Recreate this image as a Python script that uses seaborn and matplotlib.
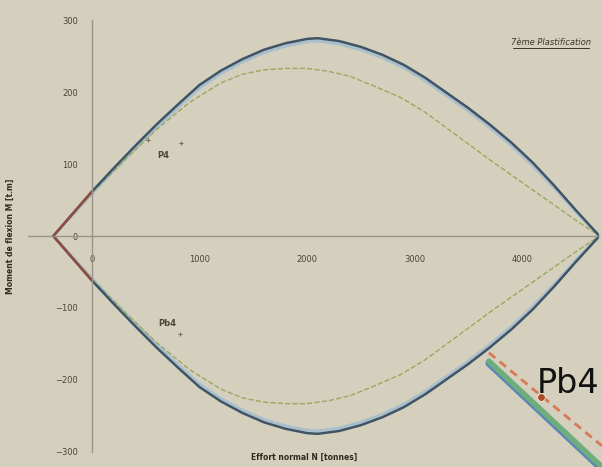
import numpy as np
import pandas as pd
import seaborn as sns
import matplotlib.pyplot as plt

# interaction diagram, upper half (lower half is mirrored)
n_outer = [-360, 0, 200, 400, 600, 800, 1000, 1200, 1400, 1600, 1800, 2000, 2100, 2300,
           2500, 2700, 2900, 3100, 3300, 3500, 3700, 3900, 4100, 4300, 4500, 4720]
m_outer = [0, 62, 94, 125, 155, 183, 210, 230, 246, 259, 268, 274, 275, 271,
           263, 252, 238, 220, 199, 178, 155, 130, 102, 70, 36, 0]

n_inner = [-360, 0, 300, 600, 900, 1200, 1400, 1600, 1800, 2000, 2200, 2400, 2600, 2865,
           3100, 3300, 3500, 3700, 3900, 4100, 4300, 4500, 4720]
m_inner = [0, 60, 105, 148, 185, 213, 225, 231, 233, 233, 229, 222, 210, 193,
           172, 150, 128, 106, 85, 64, 43, 22, 0]

n_blue = n_outer
m_blue = [0, 59, 91, 121, 151, 179, 206, 226, 242, 255, 264, 270, 271, 267,
          259, 248, 234, 216, 195, 174, 151, 126, 98, 67, 34, 0]

n_red = [-360, 0]
m_red = [0, 62]

p4_n = [521, 828]
p4_m = [133, 130]
pb4_n = [493, 819]
pb4_m = [-135, -136]

xticks = [0, 1000, 2000, 3000, 4000]
yticks = [-300, -200, -100, 0, 100, 200, 300]

bg = "#d5cfbd"
sns.set_theme(style="white", rc={"figure.facecolor": bg, "axes.facecolor": bg})
plt.rcParams["font.family"] = ["DejaVu Sans"]


def both_halves(n, m, name):
    up = pd.DataFrame({"N": n, "M": m, "part": name + "_up"})
    down = pd.DataFrame({"N": n, "M": [-v for v in m], "part": name + "_down"})
    return up, down


fig = plt.figure(figsize=(6.02, 4.67), dpi=100)
ax = fig.add_axes([0.0457, 0.0171, 0.950, 0.955])

for n, m, name, color, lw, ls in [
    (n_blue, m_blue, "blue", "#a9bfcc", 2.2, "-"),
    (n_inner, m_inner, "inner", "#9aa860", 1.0, "--"),
    (n_outer, m_outer, "outer", "#3f5566", 1.8, "-"),
    (n_red, m_red, "red", "#9a4a38", 1.6, "-"),
]:
    for half in both_halves(n, m, name):
        sns.lineplot(data=half, x="N", y="M", sort=False, color=color, lw=lw,
                     linestyle=ls, ax=ax, legend=False)

sns.scatterplot(x=p4_n, y=p4_m, marker="+", color="#777060", s=12, linewidth=0.8, ax=ax)
sns.scatterplot(x=pb4_n, y=pb4_m, marker="+", color="#777060", s=12, linewidth=0.8, ax=ax)
ax.text(610, 108, "P4", fontsize=6, color="#4a4538", fontweight="bold")
ax.text(620, -125, "Pb4", fontsize=6, color="#4a4538", fontweight="bold")

ax.set_xlim(-600, 4720)
ax.set_ylim(-310, 310)
ax.set_xticks(xticks)
ax.set_yticks(yticks)
for s in ["top", "right"]:
    ax.spines[s].set_visible(False)
ax.spines["left"].set_position(("data", 0))
ax.spines["left"].set_bounds(-300, 300)
ax.spines["bottom"].set_position(("data", 0))
for s in ["left", "bottom"]:
    ax.spines[s].set_color("#9a958a")
    ax.spines[s].set_linewidth(1.0)
ax.tick_params(axis="y", labelsize=6, labelcolor="#4a4538", length=2, color="#9a958a", pad=8)
ax.tick_params(axis="x", labelsize=6, labelcolor="#4a4538", length=2, color="#9a958a",
               direction="in", pad=14)
ax.set_xlabel("")
ax.set_ylabel("")

fig.text(0.505, 0.01, "Effort normal N [tonnes]", fontsize=5.5, fontweight="bold",
         color="#2f2b22", ha="center", va="bottom")
fig.text(0.017, 0.495, "Moment de flexion M [t.m]", fontsize=5.5, fontweight="bold",
         color="#2f2b22", ha="center", va="center", rotation=90)
fig.text(0.915, 0.900, "7ème Plastification", fontsize=6, fontstyle="italic",
         color="#3a362c", ha="center", va="bottom")
fig.add_artist(plt.Line2D([0.852, 0.978], [0.897, 0.897], color="#3a362c", lw=0.7))

# cropped zoom fragment in the corner
inset_n = [0, 100]
inset_green = [100, 0]
inset_red = [108, 20]
dot_n = [46]
dot_m = [66]
ins = fig.add_axes([0.797, 0.0, 0.203, 0.272])
ins.set_facecolor(bg)
sns.lineplot(x=inset_n, y=[v - 2 for v in inset_green], color="#5b86b8", lw=5, ax=ins)
sns.lineplot(x=inset_n, y=inset_green, color="#6fae7c", lw=4, ax=ins)
sns.lineplot(x=inset_n, y=inset_red, color="#d77a55", lw=2, linestyle=(0, (3, 2)), ax=ins)
sns.scatterplot(x=dot_n, y=dot_m, color="#b04a22", s=30, ax=ins, zorder=5)
ins.set_xlim(-8, 100)
ins.set_ylim(0, 120)
ins.axis("off")
ins.text(42, 70, "Pb4", fontsize=24, color="#111111", va="baseline", clip_on=True)

fig.savefig("out.png", dpi=100, facecolor=bg)
